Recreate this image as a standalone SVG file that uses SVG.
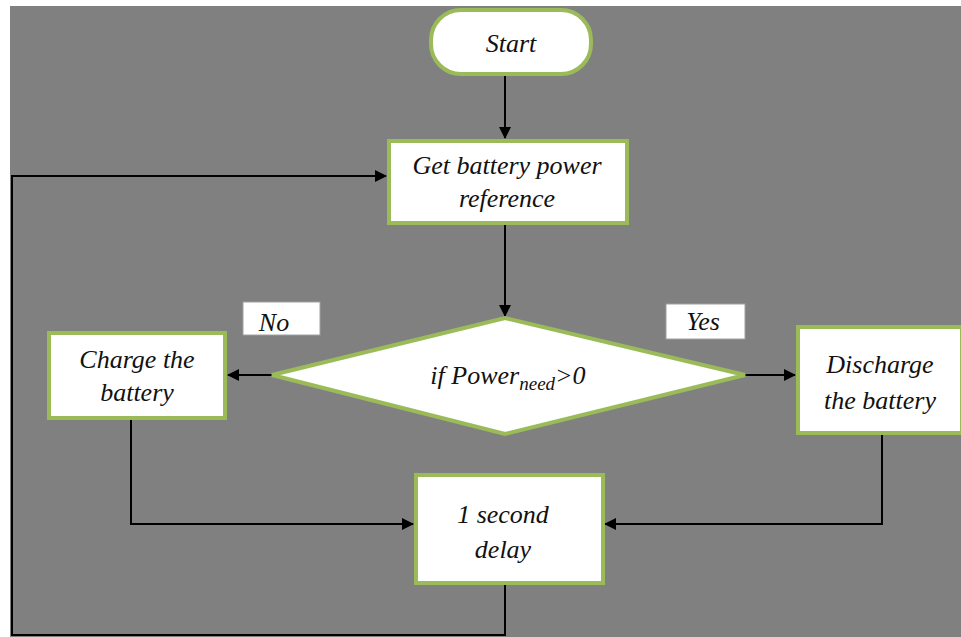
<svg xmlns="http://www.w3.org/2000/svg" width="961" height="637" viewBox="0 0 961 637">
<defs>
<marker id="ah" markerWidth="12" markerHeight="12" refX="11" refY="6" orient="auto" markerUnits="userSpaceOnUse">
<path d="M0,0 L12,6 L0,12 Z" fill="#000"/>
</marker>
</defs>
<style>
.box{fill:#fff;stroke:#9bbb59;stroke-width:4}
.lbl{fill:#fff;stroke:#a0a0a0;stroke-width:1}
.t{font-family:'Liberation Serif','DejaVu Serif',serif;font-style:italic;font-size:26px;fill:#111;text-anchor:middle}
.c{fill:none;stroke:#000;stroke-width:2}
</style>
<rect x="10" y="6" width="951" height="631" fill="#808080"/>
<g id="connectors">
<path class="c" d="M505,76 V138" marker-end="url(#ah)"/>
<path class="c" d="M505,224 V316" marker-end="url(#ah)"/>
<path class="c" d="M272,375 H228" marker-end="url(#ah)"/>
<path class="c" d="M745,375 H795" marker-end="url(#ah)"/>
<path class="c" d="M131,419 V524 H413" marker-end="url(#ah)"/>
<path class="c" d="M882,434 V524 H605" marker-end="url(#ah)"/>
<path class="c" d="M505,584 V635 H12 V176 H386" marker-end="url(#ah)"/>
</g>
<g id="start">
<rect class="box" x="431" y="10" width="160" height="64" rx="30"/>
<text class="t" x="511" y="52">Start</text>
</g>
<g id="get">
<rect class="box" x="389" y="141" width="238" height="82"/>
<text class="t" x="507" y="174">Get battery power</text>
<text class="t" x="507" y="207">reference</text>
</g>
<g id="decision">
<polygon class="box" points="505,318 745,375 505,434 272,375"/>
<text class="t" x="508" y="384"><tspan font-size="26">if Power</tspan><tspan font-size="19" dy="6">need</tspan><tspan font-size="26" dy="-6">&gt;0</tspan></text>
</g>
<g id="no-label">
<rect class="lbl" x="243" y="302" width="77" height="33"/>
<text class="t" x="274" y="331">No</text>
</g>
<g id="yes-label">
<rect class="lbl" x="666" y="304" width="79" height="35"/>
<text class="t" x="703" y="330">Yes</text>
</g>
<g id="charge">
<rect class="box" x="49" y="333" width="176" height="85"/>
<text class="t" x="137" y="368">Charge the</text>
<text class="t" x="137" y="401">battery</text>
</g>
<g id="discharge">
<rect class="box" x="798" y="327" width="164" height="106"/>
<text class="t" x="880" y="373">Discharge</text>
<text class="t" x="880" y="409">the battery</text>
</g>
<g id="delay">
<rect class="box" x="416" y="475" width="187" height="108"/>
<text class="t" x="503" y="523">1 second</text>
<text class="t" x="503" y="558">delay</text>
</g>
</svg>
